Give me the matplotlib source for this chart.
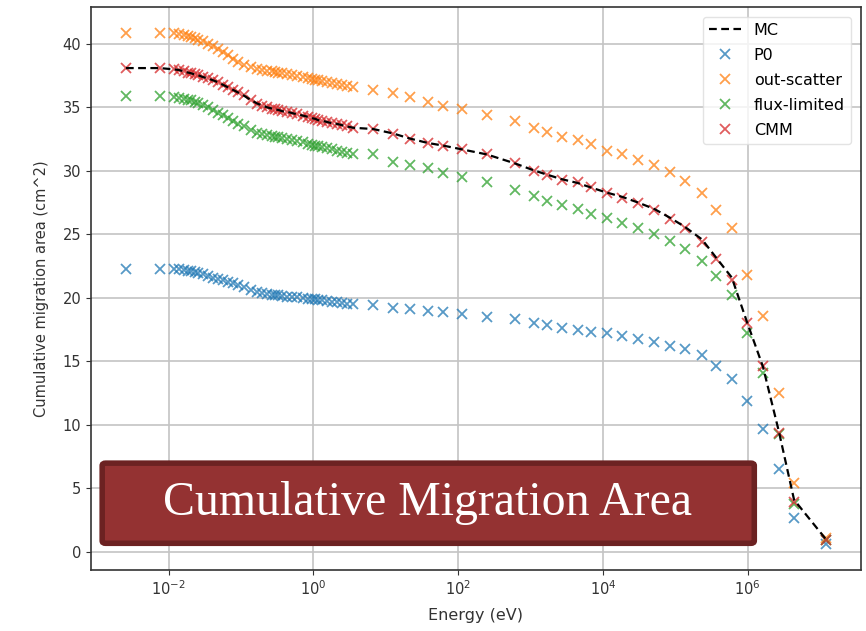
import matplotlib
matplotlib.use("Agg")
import matplotlib.pyplot as plt
from matplotlib.patches import FancyBboxPatch

# Energy grid (eV)
energy = [2.56e-3, 7.52e-3,
          1.17e-2, 1.37e-2, 1.61e-2, 1.83e-2, 2.01e-2, 2.28e-2, 2.51e-2, 2.94e-2,
          3.44e-2, 4.03e-2, 4.73e-2, 5.54e-2, 6.50e-2, 7.62e-2, 8.92e-2, 0.108,
          0.135, 0.168, 0.197, 0.231, 0.271, 0.298, 0.328, 0.372, 0.436, 0.511,
          0.599, 0.724, 0.848, 0.962, 1.06, 1.16, 1.32, 1.55, 1.81, 2.13, 2.49,
          2.92, 3.53, 6.67,
          12.6, 21.5, 38.1, 61.4, 112, 248, 603, 1.10e3, 1.70e3, 2.69e3, 4.47e3,
          6.76e3, 1.12e4, 1.86e4, 3.09e4, 5.13e4, 8.51e4, 1.35e5, 2.34e5, 3.63e5,
          6.03e5, 9.77e5, 1.62e6, 2.69e6, 4.37e6, 1.20e7]

mc = [38.1, 38.1,
      38.0, 37.95, 37.85, 37.75, 37.7, 37.6, 37.55, 37.4,
      37.3, 37.15, 37.0, 36.8, 36.6, 36.4, 36.2, 35.95,
      35.6, 35.3, 35.15, 35.0, 34.9, 34.85, 34.8, 34.7, 34.65, 34.55,
      34.45, 34.35, 34.25, 34.15, 34.1, 34.0, 33.95, 33.85, 33.75, 33.7, 33.6,
      33.5, 33.4, 33.3,
      32.95, 32.55, 32.2, 32.0, 31.7, 31.3, 30.6, 30.05, 29.7, 29.35, 29.05,
      28.7, 28.3, 27.95, 27.5, 27.0, 26.3, 25.6, 24.6, 23.2,
      21.6, 18.1, 14.6, 9.5, 4.1, 1.0]

p0 = [22.3, 22.3,
      22.3, 22.25, 22.2, 22.15, 22.1, 22.0, 21.95, 21.85,
      21.7, 21.6, 21.5, 21.4, 21.25, 21.15, 21.0, 20.85,
      20.65, 20.45, 20.35, 20.3, 20.25, 20.2, 20.2, 20.15, 20.1, 20.1,
      20.05, 20.0, 19.95, 19.9, 19.9, 19.85, 19.8, 19.75, 19.7, 19.65, 19.6,
      19.55, 19.5, 19.45,
      19.2, 19.1, 19.0, 18.85, 18.7, 18.5, 18.3, 18.0, 17.85, 17.6, 17.5,
      17.35, 17.2, 17.0, 16.75, 16.5, 16.2, 15.95, 15.5, 14.6,
      13.65, 11.85, 9.7, 6.5, 2.7, 0.6]

out_scatter = [40.9, 40.9,
               40.85, 40.8, 40.7, 40.6, 40.55, 40.45, 40.35, 40.2,
               40.0, 39.8, 39.6, 39.35, 39.1, 38.85, 38.6, 38.35,
               38.15, 38.0, 37.95, 37.9, 37.85, 37.8, 37.75, 37.7, 37.65, 37.55,
               37.5, 37.4, 37.3, 37.25, 37.2, 37.15, 37.1, 37.0, 36.95, 36.85, 36.8,
               36.7, 36.6, 36.4,
               36.15, 35.8, 35.4, 35.1, 34.9, 34.4, 33.9, 33.35, 33.1, 32.7, 32.4,
               32.1, 31.6, 31.3, 30.85, 30.5, 29.9, 29.2, 28.3, 26.9,
               25.5, 21.8, 18.6, 12.5, 5.4, 1.1]

flux_limited = [35.9, 35.9,
                35.8, 35.75, 35.7, 35.6, 35.55, 35.45, 35.35, 35.2,
                35.0, 34.8, 34.6, 34.4, 34.15, 33.95, 33.7, 33.5,
                33.25, 33.0, 32.9, 32.8, 32.75, 32.7, 32.65, 32.6, 32.5, 32.45,
                32.35, 32.25, 32.15, 32.05, 32.0, 31.95, 31.9, 31.8, 31.7, 31.6, 31.5,
                31.4, 31.3, 31.3,
                30.7, 30.45, 30.2, 29.85, 29.5, 29.1, 28.5, 28.0, 27.6, 27.3, 27.0,
                26.6, 26.3, 25.9, 25.5, 25.0, 24.45, 23.85, 22.9, 21.7,
                20.2, 17.2, 14.05, 9.3, 3.8, 0.9]

cmm = [38.1, 38.1,
       38.0, 37.95, 37.85, 37.75, 37.7, 37.6, 37.55, 37.4,
       37.3, 37.15, 37.0, 36.8, 36.6, 36.4, 36.2, 35.95,
       35.6, 35.3, 35.15, 35.0, 34.9, 34.85, 34.8, 34.7, 34.65, 34.55,
       34.45, 34.35, 34.25, 34.15, 34.1, 34.0, 33.95, 33.85, 33.75, 33.7, 33.6,
       33.5, 33.4, 33.3,
       32.9, 32.5, 32.2, 32.0, 31.7, 31.3, 30.6, 30.0, 29.7, 29.3, 29.1,
       28.7, 28.3, 27.9, 27.45, 26.95, 26.2, 25.5, 24.4, 23.1,
       21.4, 18.0, 14.6, 9.35, 3.9, 0.9]

series_names = ["P0", "out-scatter", "flux-limited", "CMM"]
series_values = [p0, out_scatter, flux_limited, cmm]
series_colors = ["#1f77b4", "#ff7f0e", "#2ca02c", "#d62728"]

fig = plt.figure(figsize=(8.66, 6.31), dpi=100)
ax = fig.add_axes([0.105, 0.097, 0.889, 0.892])

ax.plot(energy, mc, "k--", lw=1.6, dashes=(3.5, 2), label="MC", zorder=3)
for name, vals, col in zip(series_names, series_values, series_colors):
    ax.plot(energy, vals, "x", color=col, ms=7.5, mew=1.3, alpha=0.75,
            label=name, zorder=2)

ax.set_xscale("log")
ax.set_xticks([1e-2, 1e0, 1e2, 1e4, 1e6])
ax.xaxis.set_minor_locator(matplotlib.ticker.NullLocator())
ax.set_yticks([0, 5, 10, 15, 20, 25, 30, 35, 40])
ax.grid(True, color="#c4c4c4", lw=1.2)
ax.tick_params(labelsize=10.5, colors="#333333")
ax.set_xlabel("Energy (eV)", fontsize=11.5, color="#333333", labelpad=7)
ax.set_ylabel("Cumulative migration area (cm^2)", fontsize=10.5,
              color="#333333", labelpad=10)
for s in ax.spines.values():
    s.set_color("#333333")
    s.set_linewidth(1.2)

leg = ax.legend(loc="upper right", fontsize=11.5, framealpha=0.8,
                edgecolor="#dddddd", labelspacing=0.62, borderaxespad=0.6)

box = FancyBboxPatch((0.118, 0.139), 0.753, 0.127,
                     boxstyle="round,pad=0,rounding_size=0.004",
                     transform=fig.transFigure, facecolor="#943232",
                     edgecolor="#6c2222", linewidth=4, zorder=10)
fig.patches.append(box)
fig.text(0.494, 0.203, "Cumulative Migration Area", family="Liberation Serif",
         fontsize=34.5, color="white", ha="center", va="center", zorder=11)

fig.savefig("out.png", dpi=100)
